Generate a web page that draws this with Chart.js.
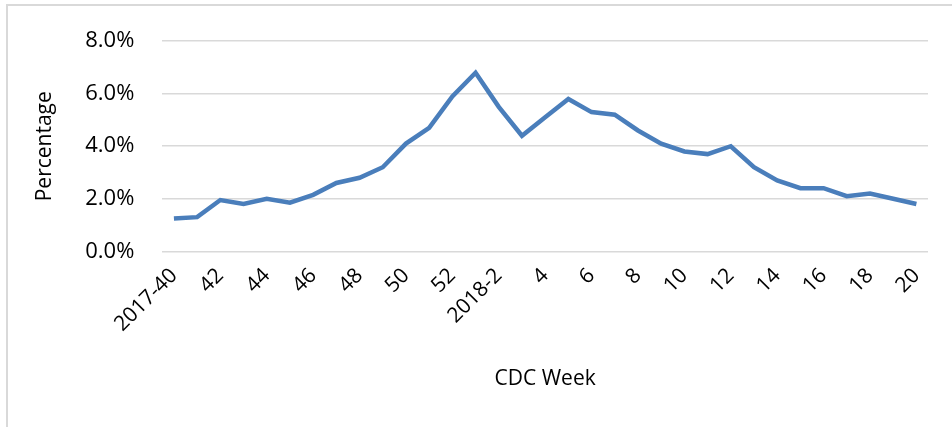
<!DOCTYPE html>
<html>
<head>
<meta charset="utf-8">
<script src="https://cdn.jsdelivr.net/npm/chart.js@4.4.0/dist/chart.umd.min.js"></script>
<style>
  html, body { margin: 0; padding: 0; background: #fff; overflow: hidden; }
  #wrap { position: absolute; left: 0; top: 0; width: 952px; height: 427px; }
  #frame {
    position: absolute; left: 6px; top: 4px; right: -10px; bottom: -10px;
    border-left: 2px solid #d9d9d9; border-top: 2px solid #d9d9d9;
  }
</style>
</head>
<body>
<div id="frame"></div>
<div id="wrap"><canvas id="chart"></canvas></div>
<script>
// CDC weeks, 2017-40 through 2018-20
const weeks = ['2017-40', '2017-41', '2017-42', '2017-43', '2017-44', '2017-45', '2017-46',
    '2017-47', '2017-48', '2017-49', '2017-50', '2017-51', '2017-52',
    '2018-1', '2018-2', '2018-3', '2018-4', '2018-5', '2018-6', '2018-7', '2018-8',
    '2018-9', '2018-10', '2018-11', '2018-12', '2018-13', '2018-14', '2018-15',
    '2018-16', '2018-17', '2018-18', '2018-19', '2018-20'];

// text shown under the axis (every other week)
const tickLabels = ['2017-40', '', '42', '', '44', '', '46', '', '48', '', '50', '', '52',
    '', '2018-2', '', '4', '', '6', '', '8', '', '10', '', '12', '', '14', '',
    '16', '', '18', '', '20'];

// percentage per week
const percent = [1.25, 1.3, 1.95, 1.8, 2.0, 1.85, 2.15, 2.6, 2.8, 3.2, 4.1, 4.7, 5.9,
    6.8, 5.5, 4.4, 5.1, 5.8, 5.3, 5.2, 4.6, 4.1, 3.8, 3.7, 4.0, 3.2, 2.7, 2.4,
    2.4, 2.1, 2.2, 2.0, 1.8];

const yTicks = [0, 2, 4, 6, 8];

const font = '"Open Sans", "Noto Sans", sans-serif';

const ctx = document.getElementById('chart').getContext('2d');
const chart = new Chart(ctx, {
    type: 'line',
    data: {
        labels: weeks,
        datasets: [{
            label: 'Percentage',
            data: percent,
            borderColor: '#4a7ebb',
            backgroundColor: '#4a7ebb',
            borderWidth: 4.5,
            pointRadius: 0,
            tension: 0
        }]
    },
    options: {
        responsive: true,
        maintainAspectRatio: false,
        animation: false,
        layout: {
            padding: { left: 28, right: 24, top: 31, bottom: 31 }
        },
        plugins: {
            legend: { display: false },
            tooltip: { enabled: false }
        },
        scales: {
            x: {
                offset: true,
                grid: { display: false },
                border: { display: false },
                ticks: {
                    autoSkip: false,
                    minRotation: 45,
                    maxRotation: 45,
                    padding: 4,
                    color: '#000',
                    font: { family: font, size: 21 },
                    callback: (v, i) => tickLabels[i]
                },
                title: {
                    display: true,
                    text: 'CDC Week',
                    color: '#000',
                    font: { family: font, size: 21 },
                    padding: { top: 26, bottom: 4 }
                }
            },
            y: {
                min: yTicks[0],
                max: yTicks[yTicks.length - 1],
                afterBuildTicks: axis => { axis.ticks = yTicks.map(v => ({ value: v })); },
                grid: { color: '#d9d9d9', lineWidth: 1.5, drawTicks: false },
                border: { display: false },
                ticks: {
                    padding: 28,
                    color: '#000',
                    font: { family: font, size: 22 },
                    callback: v => v.toFixed(1) + '%'
                },
                title: {
                    display: true,
                    text: 'Percentage',
                    color: '#000',
                    font: { family: font, size: 21 },
                    padding: { top: 4, bottom: 0 }
                }
            }
        }
    }
});
</script>
</body>
</html>
